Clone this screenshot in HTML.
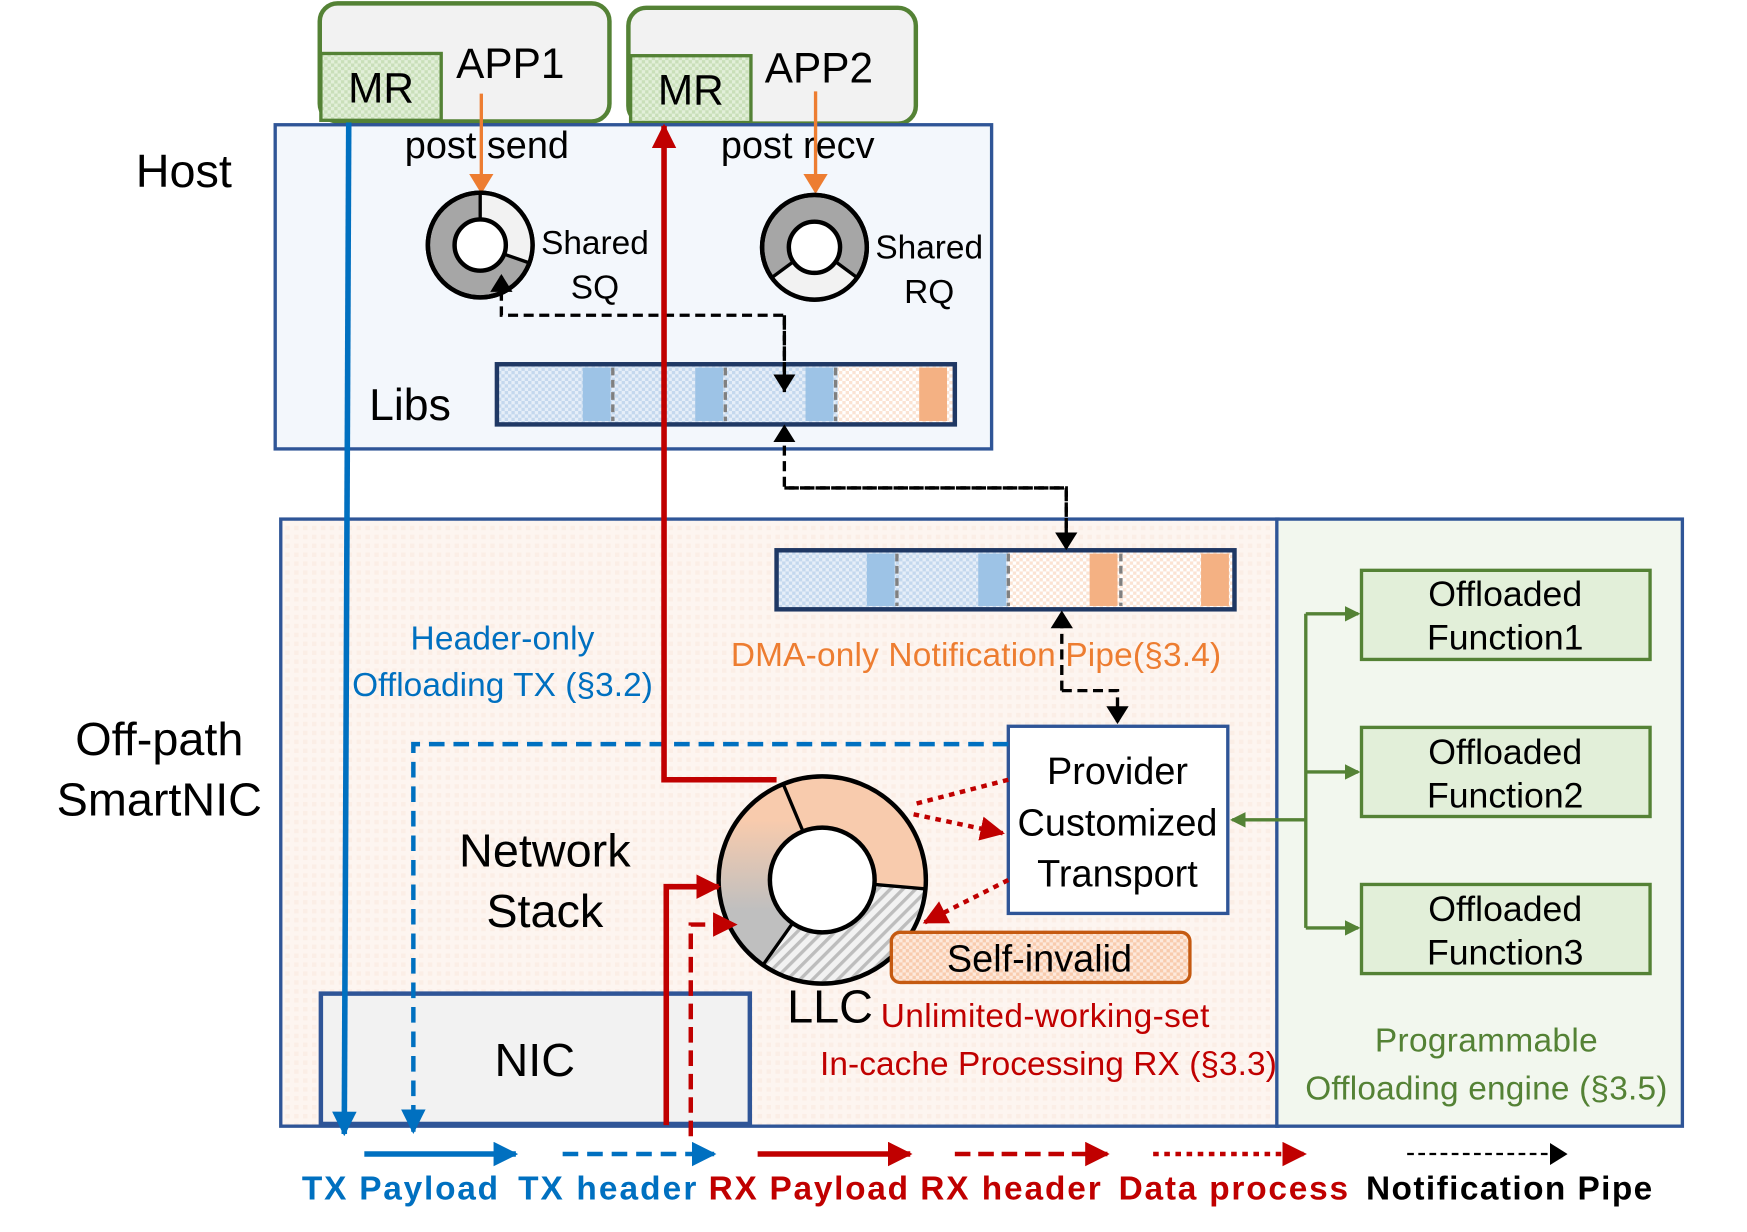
<!DOCTYPE html>
<html><head><meta charset="utf-8"><style>
html,body{margin:0;padding:0;background:#fff}
svg{display:block}
text{font-family:"Liberation Sans",sans-serif}
</style></head><body>
<svg width="1747" height="1232" viewBox="0 0 1568 1106" preserveAspectRatio="none" xmlns="http://www.w3.org/2000/svg">
<defs>
<pattern id="hb" width="6" height="6" patternUnits="userSpaceOnUse"><rect width="6" height="6" fill="#e6eef8"/><rect width="3" height="3" fill="#c4d8ee"/><rect x="3" y="3" width="3" height="3" fill="#c4d8ee"/></pattern>
<pattern id="hp" width="6" height="6" patternUnits="userSpaceOnUse"><rect width="6" height="6" fill="#fff"/><rect width="3" height="3" fill="#fbe3d3"/><rect x="3" y="3" width="3" height="3" fill="#fbe3d3"/></pattern>
<pattern id="hg" width="6" height="6" patternUnits="userSpaceOnUse"><rect width="6" height="6" fill="#e2efd9"/><rect width="3" height="3" fill="#c9dfb9"/><rect x="3" y="3" width="3" height="3" fill="#c9dfb9"/></pattern>
<pattern id="ho" width="6" height="6" patternUnits="userSpaceOnUse"><rect width="6" height="6" fill="#f8cbad"/><rect width="3" height="3" fill="#fde9dc"/><rect x="3" y="3" width="3" height="3" fill="#fde9dc"/></pattern>
<pattern id="bg2" width="8" height="8" patternUnits="userSpaceOnUse"><rect width="8" height="8" fill="#fdf5f0"/><rect width="4" height="4" fill="#fbeee6"/></pattern>
<pattern id="hatch" width="8" height="8" patternUnits="userSpaceOnUse" patternTransform="rotate(45)"><rect width="8" height="8" fill="#f2f2f2"/><rect width="3" height="8" fill="#bdbdbd"/></pattern>
<linearGradient id="lg" x1="0" y1="0" x2="0" y2="1"><stop offset="0.2" stop-color="#f8cbad"/><stop offset="0.7" stop-color="#bfbfbf"/></linearGradient>
<marker id="ablg" markerWidth="16" markerHeight="20" refX="14" refY="10" orient="auto" markerUnits="userSpaceOnUse"><path d="M0,0 L16,10 L0,20Z" fill="#000"/></marker>
<marker id="ablue" markerWidth="22" markerHeight="22" refX="20" refY="11" orient="auto" markerUnits="userSpaceOnUse"><path d="M0,0 L22,11 L0,22Z" fill="#0070c0"/></marker>
<marker id="ared" markerWidth="22" markerHeight="22" refX="20" refY="11" orient="auto" markerUnits="userSpaceOnUse"><path d="M0,0 L22,11 L0,22Z" fill="#c00000"/></marker>
<marker id="aor" markerWidth="18" markerHeight="22" refX="16" refY="11" orient="auto" markerUnits="userSpaceOnUse"><path d="M0,0 L18,11 L0,22Z" fill="#ed7d31"/></marker>
<marker id="agr" markerWidth="14" markerHeight="14" refX="12" refY="7" orient="auto" markerUnits="userSpaceOnUse"><path d="M0,0 L14,7 L0,14Z" fill="#548235"/></marker>
</defs>

<rect x="287" y="3" width="260" height="106" rx="16" fill="#f2f2f2" stroke="#548235" stroke-width="4"/>
<rect x="564" y="7" width="258" height="104" rx="16" fill="#f2f2f2" stroke="#548235" stroke-width="4"/>
<rect x="288" y="48" width="108" height="60" fill="url(#hg)" stroke="#548235" stroke-width="3"/>
<rect x="566" y="50" width="108" height="60" fill="url(#hg)" stroke="#548235" stroke-width="3"/>
<text x="342" y="92" font-size="38" text-anchor="middle">MR</text>
<text x="620" y="94" font-size="38" text-anchor="middle">MR</text>
<text x="458" y="70" font-size="38" text-anchor="middle">APP1</text>
<text x="735" y="74" font-size="38" text-anchor="middle">APP2</text>

<rect x="247" y="112" width="643" height="291" fill="#f3f7fc" stroke="#2f5597" stroke-width="3"/>
<text x="165" y="168" font-size="42" text-anchor="middle">Host</text>
<text x="437" y="142" font-size="34" text-anchor="middle">post  send</text>
<text x="716" y="142" font-size="34" text-anchor="middle">post  recv</text>
<line x1="432" y1="84" x2="432" y2="172" stroke="#ed7d31" stroke-width="3" marker-end="url(#aor)"/>
<line x1="732" y1="82" x2="732" y2="172" stroke="#ed7d31" stroke-width="3" marker-end="url(#aor)"/>

<circle cx="431" cy="220" r="47" fill="#a6a6a6" stroke="#000" stroke-width="4"/>
<path d="M431,220 L431,173 A47,47 0 0 1 475.2,236.1 Z" fill="#f2f2f2"/>
<circle cx="431" cy="220" r="47" fill="none" stroke="#000" stroke-width="4"/>
<line x1="431" y1="173" x2="431" y2="198" stroke="#000" stroke-width="3"/>
<line x1="452" y1="228" x2="475" y2="236" stroke="#000" stroke-width="3"/>
<circle cx="431" cy="220" r="23" fill="#fff" stroke="#000" stroke-width="4"/>
<text x="534" y="228" font-size="30" text-anchor="middle">Shared</text>
<text x="534" y="268" font-size="30" text-anchor="middle">SQ</text>
<circle cx="731" cy="222" r="47" fill="#a6a6a6" stroke="#000" stroke-width="4"/>
<path d="M731,222 L769.5,249 A47,47 0 0 1 692.5,249 Z" fill="#f2f2f2"/>
<circle cx="731" cy="222" r="47" fill="none" stroke="#000" stroke-width="4"/>
<line x1="750" y1="235" x2="769" y2="249" stroke="#000" stroke-width="3"/>
<line x1="712" y1="235" x2="693" y2="249" stroke="#000" stroke-width="3"/>
<circle cx="731" cy="222" r="23" fill="#fff" stroke="#000" stroke-width="4"/>
<text x="834" y="232" font-size="30" text-anchor="middle">Shared</text>
<text x="834" y="272" font-size="30" text-anchor="middle">RQ</text>

<text x="368" y="377" font-size="40" text-anchor="middle">Libs</text>
<rect x="446" y="327" width="306" height="54" fill="url(#hb)"/>
<rect x="752" y="327" width="105" height="54" fill="url(#hp)"/>
<rect x="523" y="330" width="25" height="48" fill="#9dc3e6"/>
<rect x="624" y="330" width="25" height="48" fill="#9dc3e6"/>
<rect x="723" y="330" width="25" height="48" fill="#9dc3e6"/>
<rect x="825" y="330" width="25" height="48" fill="#f4b183"/>
<g stroke="#808080" stroke-width="3" stroke-dasharray="7,4"><line x1="550" y1="330" x2="550" y2="378"/><line x1="651" y1="330" x2="651" y2="378"/><line x1="750" y1="330" x2="750" y2="378"/></g>
<rect x="446" y="327" width="411" height="54" fill="none" stroke="#1f3864" stroke-width="4"/>

<rect x="252" y="466" width="895" height="545" fill="url(#bg2)" stroke="#2f5597" stroke-width="3"/>
<rect x="1146" y="466" width="364" height="545" fill="#f2f7ee" stroke="#2f5597" stroke-width="3"/>
<text x="143" y="678" font-size="42" text-anchor="middle">Off-path</text>
<text x="143" y="732" font-size="42" text-anchor="middle">SmartNIC</text>

<rect x="697" y="494" width="208" height="53" fill="url(#hb)"/>
<rect x="905" y="494" width="203" height="53" fill="url(#hp)"/>
<rect x="778" y="497" width="25" height="47" fill="#9dc3e6"/>
<rect x="878" y="497" width="25" height="47" fill="#9dc3e6"/>
<rect x="978" y="497" width="25" height="47" fill="#f4b183"/>
<rect x="1078" y="497" width="25" height="47" fill="#f4b183"/>
<g stroke="#808080" stroke-width="3" stroke-dasharray="7,4"><line x1="805" y1="497" x2="805" y2="544"/><line x1="905" y1="497" x2="905" y2="544"/><line x1="1006" y1="497" x2="1006" y2="544"/></g>
<rect x="697" y="494" width="411" height="53" fill="none" stroke="#1f3864" stroke-width="4"/>

<text x="451" y="583" font-size="30" fill="#0070c0" text-anchor="middle" textLength="165">Header-only</text>
<text x="451" y="625" font-size="30" fill="#0070c0" text-anchor="middle" textLength="270">Offloading TX (§3.2)</text>
<text x="876" y="598" font-size="30" fill="#ed7d31" text-anchor="middle" textLength="440">DMA-only Notification Pipe(§3.4)</text>

<text x="489" y="778" font-size="42" text-anchor="middle">Network</text>
<text x="489" y="832" font-size="42" text-anchor="middle">Stack</text>

<rect x="288" y="892" width="385" height="117" fill="#f2f2f2" stroke="#2f5597" stroke-width="4"/>
<text x="480" y="966" font-size="42" text-anchor="middle">NIC</text>

<rect x="905" y="652" width="197" height="168" fill="#fff" stroke="#2f5597" stroke-width="3"/>
<text x="1003" y="704" font-size="34" text-anchor="middle">Provider</text>
<text x="1003" y="750" font-size="34" text-anchor="middle">Customized</text>
<text x="1003" y="796" font-size="34" text-anchor="middle">Transport</text>

<path d="M738,790 L703.1,703.8 A93,93 0 0 1 830.6,798.1 Z" fill="#f8cbad"/>
<path d="M738,790 L830.6,798.1 A93,93 0 0 1 684.7,866.2 Z" fill="url(#hatch)"/>
<path d="M738,790 L684.7,866.2 A93,93 0 0 1 703.1,703.8 Z" fill="url(#lg)"/>
<circle cx="738" cy="790" r="93" fill="none" stroke="#000" stroke-width="4"/>
<g stroke="#000" stroke-width="3"><line x1="703" y1="704" x2="721" y2="747"/><line x1="785" y1="794" x2="831" y2="798"/><line x1="712" y1="828" x2="685" y2="866"/></g>
<circle cx="738" cy="790" r="47" fill="#fff" stroke="#000" stroke-width="4"/>
<text x="745" y="918" font-size="42" text-anchor="middle">LLC</text>

<rect x="800" y="837" width="268" height="45" rx="8" fill="url(#ho)" stroke="#c55a11" stroke-width="3"/>
<text x="933" y="872" font-size="34" text-anchor="middle">Self-invalid</text>
<text x="938" y="922" font-size="30" fill="#c00000" text-anchor="middle" textLength="295">Unlimited-working-set</text>
<text x="941" y="965" font-size="30" fill="#c00000" text-anchor="middle" textLength="410">In-cache Processing RX (§3.3)</text>

<g fill="#e2efd9" stroke="#548235" stroke-width="3">
<rect x="1222" y="512" width="259" height="80"/><rect x="1222" y="653" width="259" height="80"/><rect x="1222" y="794" width="259" height="80"/></g>
<g font-size="32" text-anchor="middle">
<text x="1351" y="544">Offloaded</text><text x="1351" y="583">Function1</text>
<text x="1351" y="686">Offloaded</text><text x="1351" y="725">Function2</text>
<text x="1351" y="827">Offloaded</text><text x="1351" y="866">Function3</text></g>
<text x="1334" y="944" font-size="30" fill="#548235" text-anchor="middle" textLength="200">Programmable</text>
<text x="1334" y="987" font-size="30" fill="#548235" text-anchor="middle" textLength="325">Offloading engine (§3.5)</text>
<g stroke="#548235" stroke-width="3" fill="none">
<line x1="1172" y1="551" x2="1172" y2="833"/>
<line x1="1172" y1="551" x2="1219" y2="551" marker-end="url(#agr)"/>
<line x1="1172" y1="693" x2="1219" y2="693" marker-end="url(#agr)"/>
<line x1="1172" y1="833" x2="1219" y2="833" marker-end="url(#agr)"/>
<line x1="1172" y1="736" x2="1106" y2="736" marker-end="url(#agr)"/>
</g>

<g stroke="#000" stroke-width="3" fill="none" stroke-dasharray="9,5">
<polyline points="704,352 704,283 450,283 450,248" marker-end="url(#ablg)"/>
<polyline points="704,283 704,350" marker-end="url(#ablg)"/>
<polyline points="957,492 957,438 704,438 704,383" marker-end="url(#ablg)"/>
<polyline points="704,438 957,438 957,492" marker-end="url(#ablg)"/>
<polyline points="953,620 953,550" marker-end="url(#ablg)"/>
<polyline points="953,620 1003,620 1003,648" marker-end="url(#ablg)"/>
</g>

<line x1="313" y1="110" x2="309" y2="1018" stroke="#0070c0" stroke-width="5" marker-end="url(#ablue)"/>
<polyline points="905,668 371,668 371,1016" fill="none" stroke="#0070c0" stroke-width="4" stroke-dasharray="14,8" marker-end="url(#ablue)"/>

<polyline points="697,700 596,700 596,113" fill="none" stroke="#c00000" stroke-width="5" marker-end="url(#ared)"/>
<polyline points="598,1010 598,796 645,796" fill="none" stroke="#c00000" stroke-width="5" marker-end="url(#ared)"/>
<polyline points="620,1020 620,830 660,830" fill="none" stroke="#c00000" stroke-width="4" stroke-dasharray="14,7" marker-end="url(#ared)"/>
<g stroke="#c00000" stroke-width="4" stroke-dasharray="5,5" fill="none">
<line x1="905" y1="700" x2="820" y2="722"/>
<line x1="820" y1="731" x2="900" y2="748" marker-end="url(#ared)"/>
<line x1="905" y1="790" x2="830" y2="828" marker-end="url(#ared)"/>
</g>

<line x1="327" y1="1036" x2="463" y2="1036" stroke="#0070c0" stroke-width="5" marker-end="url(#ablue)"/>
<line x1="505" y1="1036" x2="641" y2="1036" stroke="#0070c0" stroke-width="4" stroke-dasharray="14,8" marker-end="url(#ablue)"/>
<line x1="680" y1="1036" x2="817" y2="1036" stroke="#c00000" stroke-width="5" marker-end="url(#ared)"/>
<line x1="857" y1="1036" x2="994" y2="1036" stroke="#c00000" stroke-width="4" stroke-dasharray="14,7" marker-end="url(#ared)"/>
<line x1="1035" y1="1036" x2="1171" y2="1036" stroke="#c00000" stroke-width="4" stroke-dasharray="5,5" marker-end="url(#ared)"/>
<line x1="1263" y1="1036" x2="1405" y2="1036" stroke="#000" stroke-width="2" stroke-dasharray="6,4" marker-end="url(#ablg)"/>
<g font-size="30" font-weight="bold">
<text x="271" y="1077" fill="#0070c0" textLength="176">TX Payload</text>
<text x="465" y="1077" fill="#0070c0" textLength="160">TX header</text>
<text x="636" y="1077" fill="#c00000" textLength="179">RX Payload</text>
<text x="826" y="1077" fill="#c00000" textLength="162">RX header</text>
<text x="1004" y="1077" fill="#c00000" textLength="206">Data process</text>
<text x="1226" y="1077" fill="#000" textLength="257">Notification Pipe</text>
</g>
</svg>
</body></html>
